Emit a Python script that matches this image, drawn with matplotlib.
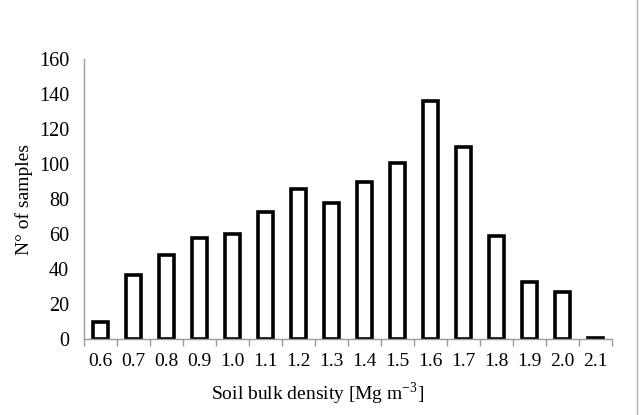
import matplotlib.pyplot as plt
import numpy as np
from matplotlib.lines import Line2D

plt.rcParams['font.family'] = ['Liberation Serif', 'DejaVu Serif']
plt.rcParams['mathtext.fontset'] = 'stix'

densities = ['0.6', '0.7', '0.8', '0.9', '1.0', '1.1', '1.2', '1.3',
             '1.4', '1.5', '1.6', '1.7', '1.8', '1.9', '2.0', '2.1']
counts = [10, 37, 48, 58, 60, 73, 86, 78, 90, 101, 136, 110, 59, 33, 27, 1]
y_ticks = [0, 20, 40, 60, 80, 100, 120, 140, 160]

fig = plt.figure(figsize=(6.4, 4.15), dpi=100)
ax = fig.add_axes([0.1318, 0.1824, 0.8244, 0.6746])

x = np.arange(len(densities))
ax.bar(x, counts, width=0.45, color='white', edgecolor='black', linewidth=2.6)

ax.set_xlim(-0.5, len(densities) - 0.5)
ax.set_ylim(0, 160)
ax.set_yticks(y_ticks)
ax.set_xticks(x)
ax.set_xticklabels(densities)
ax.set_xticks(np.arange(len(densities) + 1) - 0.5, minor=True)
ax.tick_params(axis='x', which='major', length=0, pad=10, labelsize=14)
ax.tick_params(axis='x', which='minor', length=5, color='#9a9a9a', width=1)
ax.tick_params(axis='y', length=0, pad=11, labelsize=14.5)

for s in ['top', 'right']:
    ax.spines[s].set_visible(False)
for s in ['left', 'bottom']:
    ax.spines[s].set_color('#9a9a9a')
    ax.spines[s].set_linewidth(1)

ax.set_ylabel('N° of samples', fontsize=14)
ax.yaxis.set_label_coords(-0.097, 0.5)
ax.set_xlabel('Soil bulk density [Mg m$^{\\mathregular{-3}}$]', fontsize=14)
ax.xaxis.set_label_coords(0.443, -0.15)

# outer chart border on the right
fig.add_artist(Line2D([0.995, 0.995], [0.0, 1.0], transform=fig.transFigure,
                      color='#b0b0b0', linewidth=1))

fig.savefig('out.png', dpi=100)
